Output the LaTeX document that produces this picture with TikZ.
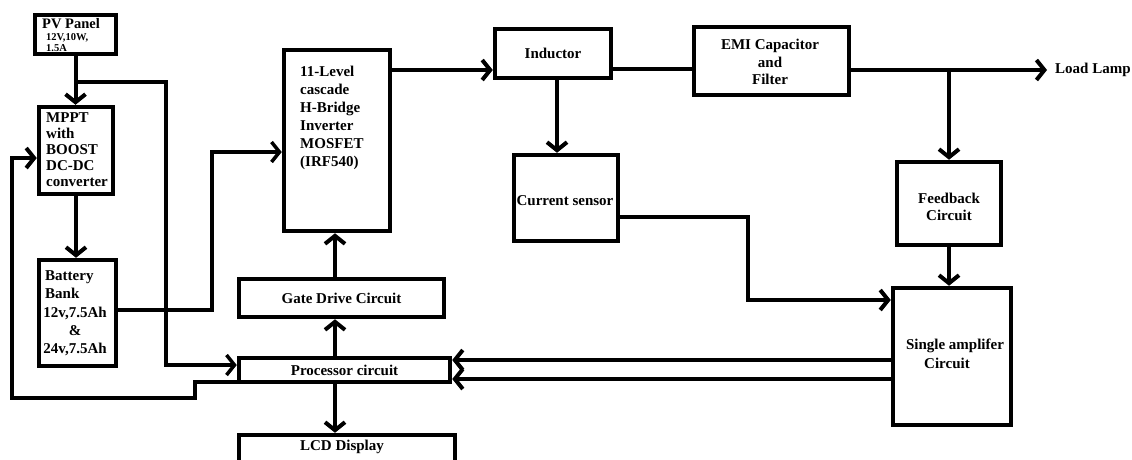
\documentclass[tikz,border=0pt]{standalone}
\usepackage{fontspec}
\setmainfont{Liberation Serif}
\usetikzlibrary{arrows.meta}
\begin{document}
\begin{tikzpicture}[x=1pt,y=-1pt,
  blk/.style={draw,line width=4.5pt,inner sep=0pt,font=\fontsize{15}{16}\selectfont\bfseries},
  txt/.style={inner sep=0pt,font=\fontsize{15}{#1}\selectfont\bfseries},
  txt/.default=18,
  con/.style={line width=4pt},
  thinc/.style={line width=3.5pt},
  arr/.style={-{Straight Barb[length=8pt,width=20pt]}}]
\useasboundingbox (0,0) rectangle (1132,459);
% boxes
\node[blk,minimum width=81pt,minimum height=39pt] (pv) at (75.5,34.5) {};
\node[blk,minimum width=74pt,minimum height=87pt] (mppt) at (76,150.5) {};
\node[blk,minimum width=77pt,minimum height=106pt] (bat) at (77.5,313) {};
\node[blk,minimum width=106pt,minimum height=181pt] (inv) at (337,140.5) {};
\node[blk,minimum width=116pt,minimum height=49pt] (ind) at (553,53.5) {Inductor};
\node[blk,minimum width=155pt,minimum height=68pt] (emi) at (771.5,61) {};
\node[blk,minimum width=104pt,minimum height=86pt] (cs) at (566,198) {};
\node[blk,minimum width=104pt,minimum height=83pt] (fb) at (949,203.5) {};
\node[blk,minimum width=118pt,minimum height=137pt] (amp) at (952,356.5) {};
\node[blk,minimum width=205pt,minimum height=38pt] (gate) at (341.5,298) {Gate Drive Circuit};
\node[blk,minimum width=211pt,minimum height=24pt] (proc) at (344.5,370) {Processor circuit};
\node[blk,minimum width=216pt,minimum height=45pt] (lcd) at (347,457.5) {};
% texts
\node[inner sep=0pt,anchor=west,font=\fontsize{14.5}{15}\selectfont\bfseries] (pvt) at (42,24) {PV Panel};
\node[inner sep=0pt,anchor=west,align=left,font=\fontsize{10.5}{11}\selectfont\bfseries] (pvs) at (46,42.5) {12V,10W,\\1.5A};
\node[txt=16,anchor=west,align=left] (mpptt) at (46,150) {MPPT\\with\\BOOST\\DC-DC\\converter};
\node[txt,anchor=west,align=left] (batt1) at (45,285) {Battery\\Bank};
\node[txt,align=center] (batt2) at (75,331) {12v,7.5Ah\\\&\\24v,7.5Ah};
\node[txt,anchor=west,align=left] (invt) at (300,118) {11-Level\\cascade\\H-Bridge\\Inverter\\MOSFET\\(IRF540)};
\node[txt=17.5,align=center] (emit) at (770,62) {EMI Capacitor\\and\\Filter};
\node[txt] (cst) at (565,201) {Current sensor};
\node[txt=17,align=center] (fbt) at (949,206.5) {Feedback\\Circuit};
\node[txt] (ampt1) at (955,346) {Single amplifer};
\node[txt] (ampt2) at (947,363) {Circuit};
\node[txt] (lcdt) at (342,447) {LCD Display};
\node[txt,anchor=west] (load) at (1055,70) {Load Lamp};
% coordinates
\coordinate (pvb) at (76,82);
\coordinate (pvx) at (166,200);
\coordinate (pin) at ([yshift=5pt]proc.west);
\coordinate (pout) at ([yshift=-12pt]proc.west);
\coordinate (m1) at (195,398);
\coordinate (m2) at (12,398);
\coordinate (min) at ([yshift=-7.5pt]mppt.west);
\coordinate (bo) at ([yshift=3pt]bat.east);
\coordinate (b1) at (212,200);
\coordinate (iin) at ([yshift=-11.5pt]inv.west);
\coordinate (iout) at ([yshift=70.5pt]inv.east);
\coordinate (indout) at ([yshift=-15.5pt]ind.east);
\coordinate (emiout) at ([yshift=-9pt]emi.east);
\coordinate (fbtap) at (emiout -| fb.north);
\coordinate (inddn) at ([xshift=4pt]ind.south);
\coordinate (csout) at ([yshift=-19pt]cs.east);
\coordinate (csx) at (748,250);
\coordinate (ampin) at ([yshift=56.5pt]amp.west);
\coordinate (ao1) at ([yshift=-3.5pt]amp.west);
\coordinate (ao2) at ([yshift=-22.5pt]amp.west);
\coordinate (pup) at ([xshift=-9.5pt]proc.north);
\coordinate (pdn) at ([xshift=-9.5pt]proc.south);
\coordinate (gup) at ([xshift=-6.5pt]gate.north);
% connectors
\draw[con,arr] (pv.south) -- (pv.south |- mppt.north);
\draw[thinc,arr] (pvb) -| (pvx) |- (pin);
\draw[con,arr] (mppt.south) -- (mppt.south |- bat.north);
\draw[thinc,arr] (bo) -| (b1) |- (iin);
\draw[con,arr] (pout) -| (m1) -- (m2) |- (min);
\draw[con,arr] (iout) -- (iout -| ind.west);
\draw[con] (indout) -- (indout -| emi.west);
\draw[con,arr] (emiout) -- ([xshift=-8pt]load.west);
\draw[con,arr] (fbtap) -- (fb.north);
\draw[con,arr] (inddn) -- (inddn |- cs.north);
\draw[con,arr] (csout) -| (csx) |- (ampin);
\draw[con,arr] (fb.south) -- (fb.south |- amp.north);
\draw[con,arr] (ao1) -- (ao1 -| proc.east);
\draw[con,arr] (ao2) -- (ao2 -| proc.east);
\draw[con,arr] (pup) -- (pup |- gate.south);
\draw[con,arr] (gup) -- (gup |- inv.south);
\draw[con,arr] (pdn) -- (pdn |- lcd.north);
\end{tikzpicture}
\end{document}
